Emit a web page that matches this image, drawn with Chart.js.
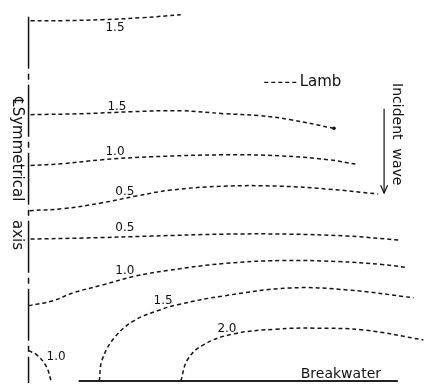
<!DOCTYPE html>
<html>
<head>
<meta charset="utf-8">
<script src="https://cdn.jsdelivr.net/npm/chart.js@4"></script>
<style>
  html, body { margin: 0; padding: 0; background: #fff; }
  #wrap { width: 448px; height: 387px; }
</style>
</head>
<body>
<div id="wrap"><canvas id="contourChart" width="448" height="387"></canvas></div>
<script>
// contour lines (x from symmetrical axis, y from breakwater)
const top15 = [[2,368],[35,368],[75,369],[115,371],[155,374]];
const upper15 = [[2,272],[55,273],[105,275],[155,276],[199,273],[235,271],[266,267],[311,258]];
const upper10 = [[2,220],[35,222],[75,226],[125,229],[199,231],[255,230],[305,226],[336,221]];
const upper05 = [[1,174],[35,176],[75,182],[110,189],[145,195],[199,199],[255,199],[305,196],[356,191]];
const lower05 = [[2,145],[55,146],[125,148],[199,150],[265,150],[325,148],[377,144]];
const lower10 = [[0,77],[25,82],[45,90],[75,98],[108,107],[142,113],[199,120],[256,123],[315,122],[360,119],[385,116]];
const lower15 = [[72,0],[75,22],[88,45],[108,62],[132,72],[152,78],[199,87],[266,95],[325,93],[392,85]];
const lower20 = [[155,0],[162,22],[178,37],[208,48],[252,53],[292,54],[342,52],[402,42]];
const corner10 = [[0,31],[8,27],[18,15],[23,0]];

const contours = [top15, upper15, upper10, upper05, lower05, lower10, lower15, lower20, corner10];

// contour labels
const labelText = ['1.5','1.5','1.0','0.5','0.5','1.0','1.5','2.0','1.0'];
const labelX = [88, 90, 88, 98, 98, 98, 137, 202, 28];
const labelY = [361, 280, 234, 193, 156, 113, 82, 53, 25];

const axisLine = [[0,372],[0,-5]];
const breakwater = [[51,0],[376,0]];

const toPts = arr => arr.map(p => ({x: p[0], y: p[1]}));

const datasets = contours.map((c, i) => ({
  data: toPts(c),
  showLine: true,
  borderColor: '#151515',
  borderWidth: 1.5,
  borderDash: [4, 3],
  tension: 0.4,
  pointRadius: c.map((p, j) => (i === 1 && j === c.length - 1) ? 1.8 : 0),
  pointBackgroundColor: '#151515',
  pointBorderWidth: 0
}));

datasets.push({
  data: toPts(axisLine), showLine: true, borderColor: '#111', borderWidth: 1.5,
  borderDash: [52, 5, 6, 5], pointRadius: 0
});
datasets.push({
  data: toPts(breakwater), showLine: true, borderColor: '#222', borderWidth: 2,
  pointRadius: 0
});

const textPlugin = {
  id: 'texts',
  afterDatasetsDraw(chart) {
    const c = chart.ctx;
    const px = v => chart.scales.x.getPixelForValue(v);
    const py = v => chart.scales.y.getPixelForValue(v);
    c.save();
    c.fillStyle = '#111';
    c.textAlign = 'center';
    c.textBaseline = 'middle';
    c.font = '12px "DejaVu Sans"';
    labelText.forEach((t, i) => c.fillText(t, px(labelX[i]), py(labelY[i])));

    // legend
    c.strokeStyle = '#111';
    c.lineWidth = 1.4;
    c.setLineDash([4, 3]);
    c.beginPath();
    c.moveTo(px(240), py(305));
    c.lineTo(px(275), py(305));
    c.stroke();
    c.setLineDash([]);
    c.font = '15px "DejaVu Sans"';
    c.textAlign = 'left';
    c.fillText('Lamb', px(276), py(305));

    c.font = '14px "DejaVu Sans"';
    c.textAlign = 'center';
    c.fillText('Breakwater', px(318), py(7));

    // incident wave arrow
    c.lineWidth = 1.2;
    c.beginPath();
    c.moveTo(px(362), py(278));
    c.lineTo(px(362), py(192));
    c.stroke();
    c.beginPath();
    c.moveTo(px(362) - 3.5, py(200));
    c.lineTo(px(362), py(192));
    c.lineTo(px(362) + 3.5, py(200));
    c.stroke();

    // rotated texts
    c.save();
    c.translate(px(375), py(252));
    c.rotate(Math.PI / 2);
    c.fillText('Incident  wave', 0, 0);
    c.restore();

    c.save();
    c.translate(px(-12), py(290));
    c.rotate(Math.PI / 2);
    c.font = '15px "DejaVu Sans"';
    c.textAlign = 'left';
    c.fillText('\u2104Symmetrical', 0, 0);
    c.fillText('axis', 123, 0);
    c.restore();

    c.restore();
  }
};

new Chart(document.getElementById('contourChart'), {
  type: 'scatter',
  data: { datasets },
  options: {
    responsive: false,
    animation: false,
    layout: { padding: 0 },
    plugins: { legend: { display: false }, tooltip: { enabled: false } },
    scales: {
      x: { type: 'linear', min: -25, max: 423, display: false },
      y: { type: 'linear', min: -2, max: 385, display: false }
    }
  },
  plugins: [textPlugin]
});
</script>
</body>
</html>
